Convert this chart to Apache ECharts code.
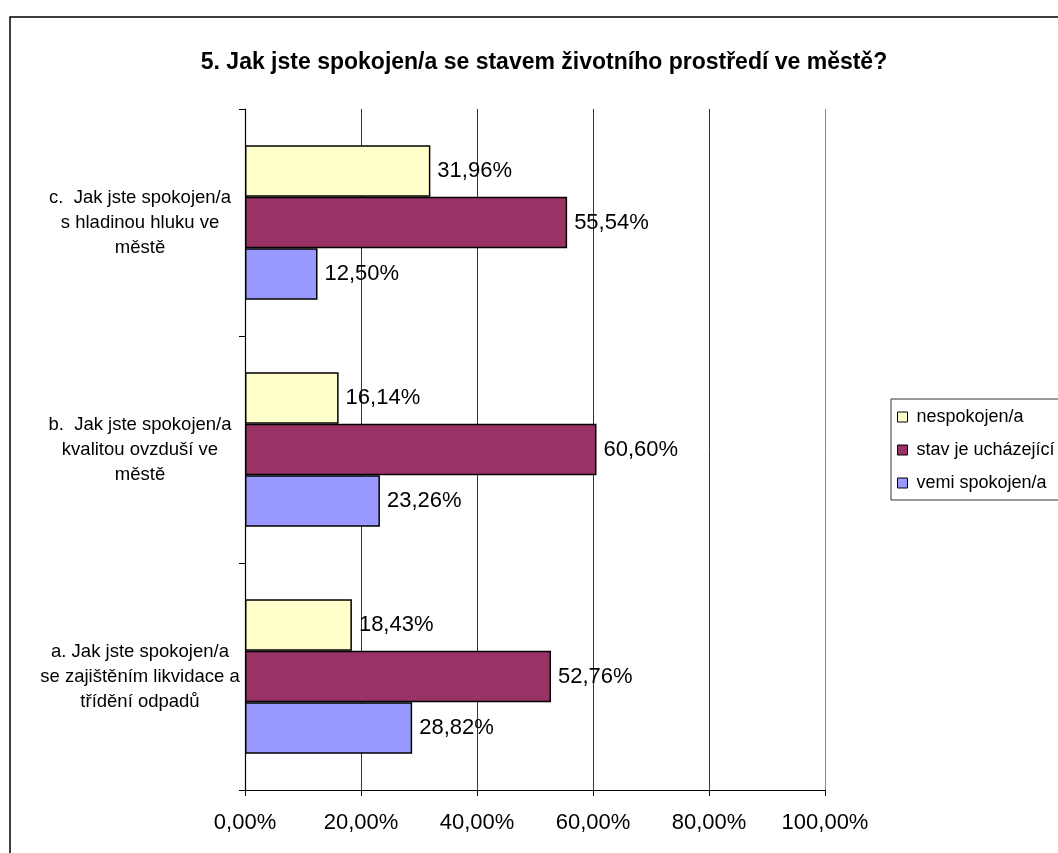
<!DOCTYPE html>
<html>
<head>
<meta charset="utf-8">
<script src="https://cdn.jsdelivr.net/npm/echarts@6/dist/echarts.min.js"></script>
<style>html,body{margin:0;padding:0;background:#fff;}#c{width:1058px;height:853px;}</style>
</head>
<body>
<div id="c"></div>
<script>
const categories = [
  'a. Jak jste spokojen/a\nse zajištěním likvidace a\ntřídění odpadů',
  'b.  Jak jste spokojen/a\nkvalitou ovzduší ve\nměstě',
  'c.  Jak jste spokojen/a\ns hladinou hluku ve\nměstě'
];
const seriesNames = ['nespokojen/a', 'stav je ucházející', 'vemi spokojen/a'];
const nespokojen = [18.43, 16.14, 31.96];
const uchazejici = [52.76, 60.60, 55.54];
const spokojen = [28.82, 23.26, 12.50];
const xTicks = [0, 20, 40, 60, 80, 100];

const fmt = v => Number(v).toFixed(2).replace('.', ',') + '%';
const colors = ['#FFFFCC', '#993366', '#9999FF'];
const FONT = 'Liberation Sans, Arial, sans-serif';

const chart = echarts.init(document.getElementById('c'), null, {renderer: 'canvas'});
const mk = (name, data, color) => ({
  name, type: 'bar', data,
  barGap: '0%', barCategoryGap: '32%',
  itemStyle: {color, borderColor: '#000', borderWidth: 1.5},
  label: {show: true, position: 'right', distance: 7, color: '#000', fontSize: 22, fontFamily: FONT, formatter: p => fmt(p.value)},
  emphasis: {disabled: true}
});
chart.setOption({
  animation: false,
  backgroundColor: '#fff',
  title: {
    text: '5. Jak jste spokojen/a se stavem životního prostředí ve městě?',
    left: 539, top: 46, textAlign: 'center',
    textStyle: {fontSize: 23, fontWeight: 'bold', color: '#000', fontFamily: FONT}
  },
  legend: {
    orient: 'vertical', left: 891, top: 399,
    data: seriesNames,
    icon: 'rect',
    itemWidth: 10, itemHeight: 10, itemGap: 13,
    padding: [8, 60, 7, 6],
    borderColor: '#333', borderWidth: 1,
    textStyle: {fontSize: 18, lineHeight: 20, color: '#000', fontFamily: FONT, padding: [0, 0, 0, 4]},
    itemStyle: {borderColor: '#000', borderWidth: 1}
  },
  graphic: [{
    type: 'rect', shape: {x: 10, y: 17, width: 1200, height: 1000},
    style: {fill: null, stroke: '#000', lineWidth: 1.5}, silent: true, z: -1
  }],
  grid: {left: 245, right: 233, top: 109, bottom: 63, containLabel: false},
  xAxis: {
    type: 'value', min: 0, max: 100, interval: 20,
    axisLine: {show: true, lineStyle: {color: '#000', width: 1.2}},
    axisTick: {show: true, length: 6, lineStyle: {color: '#000'}},
    axisLabel: {fontSize: 22, color: '#000', fontFamily: FONT, margin: 22, formatter: v => fmt(v)},
    splitLine: {show: true, lineStyle: {color: ['#333', '#333', '#333', '#333', '#333', '#888'], width: 1}}
  },
  yAxis: {
    type: 'category', data: categories,
    axisLine: {show: true, lineStyle: {color: '#000', width: 1.2}},
    axisTick: {show: true, length: 6, lineStyle: {color: '#000'}},
    axisLabel: {fontSize: 18.5, color: '#000', fontFamily: FONT, align: 'center', margin: 105, lineHeight: 25},
    splitLine: {show: false}
  },
  series: [
    mk(seriesNames[0], nespokojen, colors[0]),
    mk(seriesNames[1], uchazejici, colors[1]),
    mk(seriesNames[2], spokojen, colors[2])
  ]
});
</script>
</body>
</html>
